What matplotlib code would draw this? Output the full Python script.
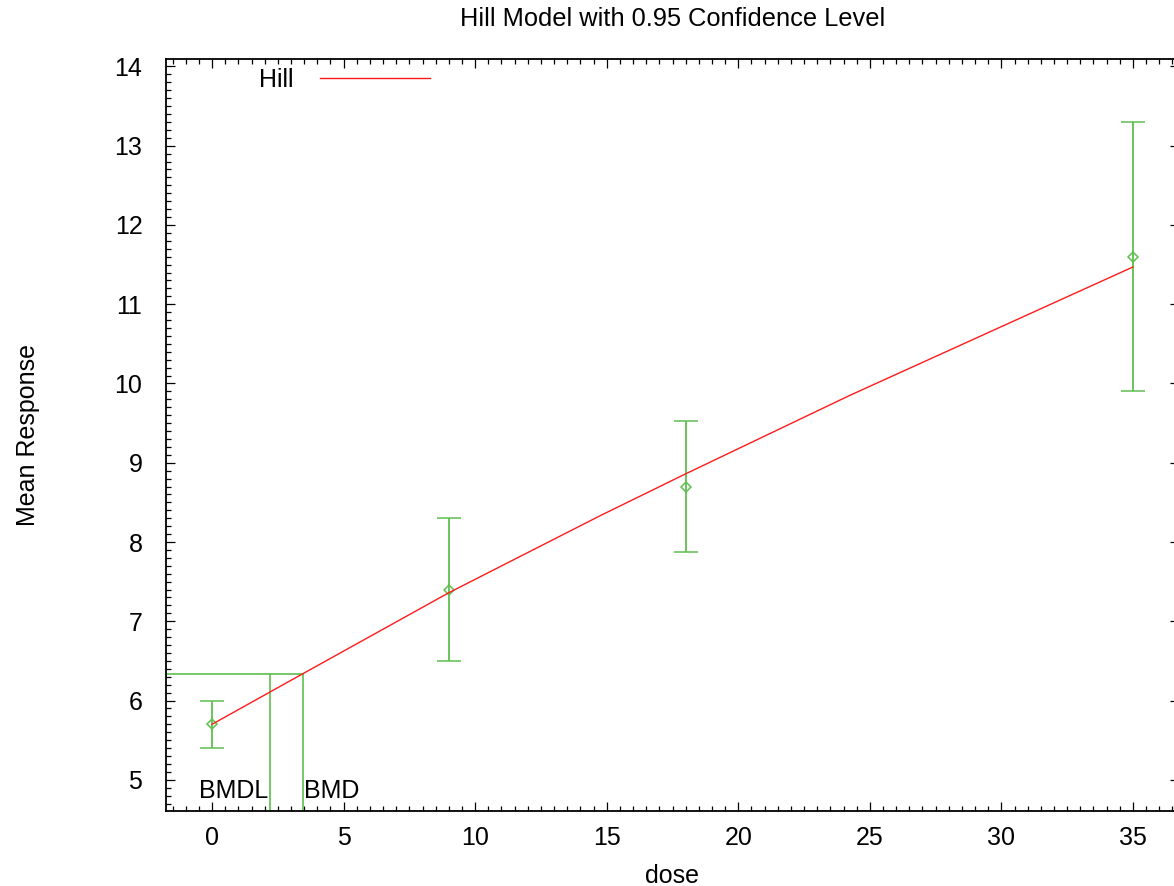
import matplotlib
matplotlib.use("Agg")
import matplotlib.pyplot as plt
from matplotlib.ticker import MultipleLocator

plt.rcParams['font.family'] = ['Liberation Sans', 'DejaVu Sans']

# Observed data
doses = [0, 9, 18, 35]
means = [5.70, 7.40, 8.70, 11.60]
lower = [5.40, 6.50, 7.87, 9.90]
upper = [6.00, 8.30, 9.53, 13.30]

# Fitted Hill curve
curve_dose = [0, 3.46, 9, 14.74, 18, 24.24, 35]
curve_resp = [5.70, 6.34, 7.36, 8.33, 8.86, 9.85, 11.47]

bmd = 3.46
bmdl = 2.22
bmr_resp = 6.34

title = "Hill Model with 0.95 Confidence Level"
xlim = (-1.75, 36.75)
ylim = (4.61, 14.09)

green = '#5fbf4f'
red = '#ff1a1a'
fs = 18

W, H = 1174, 886
fig = plt.figure(figsize=(W / 100, H / 100), dpi=100)
left, right, bottom, top = 166, 1179, 810.7, 59.3
ax = fig.add_axes([left / W, 1 - bottom / H, (right - left) / W, (bottom - top) / H])
ax.set_xlim(*xlim)
ax.set_ylim(*ylim)

# curve
ax.plot(curve_dose, curve_resp, color=red, lw=1.0, label='Hill', zorder=3)

# error bars
yerr = [[m - l for m, l in zip(means, lower)], [u - m for m, u in zip(means, upper)]]
ax.errorbar(doses, means, yerr=yerr, fmt='D', mfc='none', mec=green, ms=5.5, mew=1.1,
            ecolor=green, elinewidth=1.3, capsize=8.6, capthick=1.3, zorder=2)

# BMD lines
ax.plot([xlim[0], bmd], [bmr_resp, bmr_resp], color=green, lw=1.2, zorder=2)
ax.plot([bmdl, bmdl], [ylim[0], bmr_resp], color=green, lw=1.2, zorder=2)
ax.plot([bmd, bmd], [ylim[0], bmr_resp], color=green, lw=1.2, zorder=2)
ax.text(bmdl - 0.1, 4.77, 'BMDL', ha='right', va='baseline', fontsize=fs)
ax.text(bmd + 0.05, 4.77, 'BMD', ha='left', va='baseline', fontsize=fs)

# ticks
ax.xaxis.set_major_locator(MultipleLocator(5))
ax.xaxis.set_minor_locator(MultipleLocator(0.5))
ax.yaxis.set_major_locator(MultipleLocator(1))
ax.yaxis.set_minor_locator(MultipleLocator(0.1))
ax.tick_params(which='both', direction='in', top=True, right=True, labelsize=fs, width=0.9)
ax.tick_params(which='major', length=6.5)
ax.tick_params(axis='x', which='major', pad=11)
ax.tick_params(axis='y', which='major', pad=17)
ax.tick_params(which='minor', length=3.5)
for s in ax.spines.values():
    s.set_linewidth(1.3)

ax.set_xlabel('dose', fontsize=fs, labelpad=10)
ax.set_ylabel('Mean Response', fontsize=fs, labelpad=54)
fig.text(0.5 * (left + right) / W, 1 - 19 / H, title, ha='center', va='center', fontsize=fs + 0.3)

ax.legend(loc='upper left', bbox_to_anchor=(259 / W, 1 - 68 / H), bbox_transform=fig.transFigure,
          frameon=False, markerfirst=False, handlelength=4.4, handletextpad=1.05,
          borderpad=0, borderaxespad=0, fontsize=fs)

fig.savefig('out.png', dpi=100)
